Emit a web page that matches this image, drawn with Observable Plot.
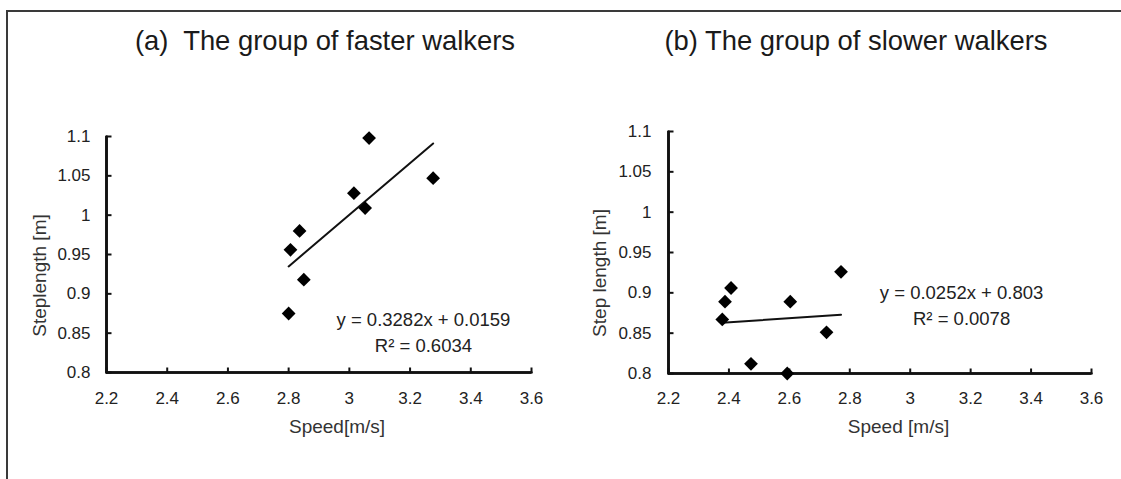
<!DOCTYPE html>
<html><head><meta charset="utf-8">
<script src="https://cdn.jsdelivr.net/npm/d3@7"></script>
<script src="https://cdn.jsdelivr.net/npm/@observablehq/plot@0.6"></script>
<style>
body{margin:0;background:#fff;}
#wrap{position:relative;width:1121px;height:479px;overflow:hidden;background:#fff;font-family:"Liberation Sans",Arial,sans-serif;}
#frame{position:absolute;left:6px;top:10px;width:1120px;height:480px;border-top:2px solid #3a3a3a;border-left:2px solid #3a3a3a;}
.title{position:absolute;top:27px;width:420px;text-align:center;font-size:27.4px;line-height:27.4px;color:#1a1a1a;white-space:pre;margin:0;font-family:"Liberation Sans",Arial,sans-serif;}
.panel{position:absolute;top:12px;}
</style></head><body>
<div id="wrap"><div id="frame"></div>
<div class="panel" id="pa" style="left:8px"></div>
<div class="panel" id="pb" style="left:560px"></div>
<pre class="title" id="ta" style="left:115px"></pre>
<pre class="title" id="tb" style="left:646px"></pre>
</div>
<script>
const titles = ["(a)  The group of faster walkers", "(b) The group of slower walkers"];
const xLabels = ["Speed[m/s]", "Speed [m/s]"];
const yLabels = ["Steplength [m]", "Step length [m]"];
const xTicks = [2.2, 2.4, 2.6, 2.8, 3, 3.2, 3.4, 3.6];
const yTicks = [0.8, 0.85, 0.9, 0.95, 1, 1.05, 1.1];
const fastSpeed = [3.065, 3.276, 3.015, 3.052, 2.836, 2.806, 2.85, 2.8];
const fastStep = [1.098, 1.047, 1.028, 1.009, 0.980, 0.956, 0.918, 0.875];
const slowSpeed = [2.771, 2.407, 2.387, 2.603, 2.378, 2.723, 2.473, 2.593];
const slowStep = [0.926, 0.906, 0.889, 0.889, 0.867, 0.851, 0.812, 0.800];
const fastFit = [0.3282, 0.0159];
const slowFit = [0.0252, 0.803];
const fastEq = ["y = 0.3282x + 0.0159", "R\u00b2 = 0.6034"];
const slowEq = ["y = 0.0252x + 0.803", "R\u00b2 = 0.0078"];
const fastEqX = [3.244, 3.244], fastEqY = [0.867, 0.833];
const slowEqX = [3.17, 3.17], slowEqY = [0.900, 0.867];

// inward tick-mark symbols (drawn as paths)
const tickUp = {draw(ctx) { ctx.moveTo(0, 0); ctx.lineTo(0, -5); }};
const tickRight = {draw(ctx) { ctx.moveTo(0, 0); ctx.lineTo(5, 0); }};

function panel(cfg) {
  const pts = cfg.speed.map((s, i) => ({speed: s, step: cfg.step[i]}));
  const ext = d3.extent(cfg.speed);
  const fit = ext.map(x => ({speed: x, step: cfg.fit[0] * x + cfg.fit[1]}));
  const eq = cfg.eq.map((t, i) => ({t, x: cfg.eqX[i], y: cfg.eqY[i]}));
  const x0 = xTicks[0], y0 = yTicks[0];
  return Plot.plot({
    width: cfg.width, height: cfg.height,
    marginLeft: cfg.ml, marginRight: cfg.mr, marginTop: cfg.mt, marginBottom: cfg.mb,
    style: {fontFamily: "'Liberation Sans', Arial, sans-serif"},
    x: {domain: [xTicks[0], xTicks[xTicks.length - 1]]},
    y: {domain: [yTicks[0], yTicks[yTicks.length - 1]]},
    marks: [
      Plot.axisX(xTicks, {tickSize: 0, tickPadding: cfg.xpad, fontSize: 17, label: null, tickFormat: d => String(d), fill: "#222"}),
      Plot.axisY(yTicks, {tickSize: 0, tickPadding: cfg.ypad, fontSize: 17, label: null, tickFormat: d => String(d), fill: "#222"}),
      Plot.ruleY([y0], {stroke: "#111", strokeWidth: 2.6}),
      Plot.ruleX([x0], {stroke: "#111", strokeWidth: 2.6}),
      Plot.line(xTicks, {x: d => d, y: () => y0, stroke: "#111", strokeWidth: 2.6}),
      Plot.line(yTicks, {x: () => x0, y: d => d, stroke: "#111", strokeWidth: 2.6}),
      Plot.dot(xTicks, {x: d => d, y: () => y0, symbol: tickUp, r: 5, fill: "none", stroke: "#111", strokeWidth: 2}),
      Plot.dot(yTicks, {x: () => x0, y: d => d, symbol: tickRight, r: 5, fill: "none", stroke: "#111", strokeWidth: 2}),
      Plot.line(fit, {x: "speed", y: "step", stroke: "#111", strokeWidth: 2}),
      Plot.dot(pts, {x: "speed", y: "step", symbol: "diamond2", r: 6.2, fill: "#000", stroke: "none"}),
      Plot.text(eq, {x: "x", y: "y", text: "t", fontSize: 18.5, fill: "#222"}),
      Plot.text([cfg.xl], {frameAnchor: "bottom", textAnchor: "middle", lineAnchor: "middle", dx: cfg.xlDx, dy: cfg.xlDy, fontSize: 19, fill: "#333"}),
      Plot.text([cfg.yl], {frameAnchor: "left", textAnchor: "middle", lineAnchor: "middle", rotate: -90, dx: cfg.ylDx, dy: cfg.ylDy, fontSize: 19, fill: "#333"})
    ]
  });
}

document.getElementById("pa").appendChild(panel({
  speed: fastSpeed, step: fastStep, fit: fastFit, eq: fastEq, eqX: fastEqX, eqY: fastEqY,
  xl: xLabels[0], yl: yLabels[0],
  width: 552, height: 467, ml: 98, mr: 29, mt: 124, mb: 107,
  xpad: 19, ypad: 16, xlDx: 18, xlDy: 54, ylDx: -67, ylDy: 21
}));
document.getElementById("pb").appendChild(panel({
  speed: slowSpeed, step: slowStep, fit: slowFit, eq: slowEq, eqX: slowEqX, eqY: slowEqY,
  xl: xLabels[1], yl: yLabels[1],
  width: 561, height: 467, ml: 108, mr: 30, mt: 119, mb: 106,
  xpad: 18, ypad: 17, xlDx: 18.5, xlDy: 53, ylDx: -69, ylDy: 20.5
}));
document.getElementById("ta").textContent = titles[0];
document.getElementById("tb").textContent = titles[1];
</script>
</body></html>
